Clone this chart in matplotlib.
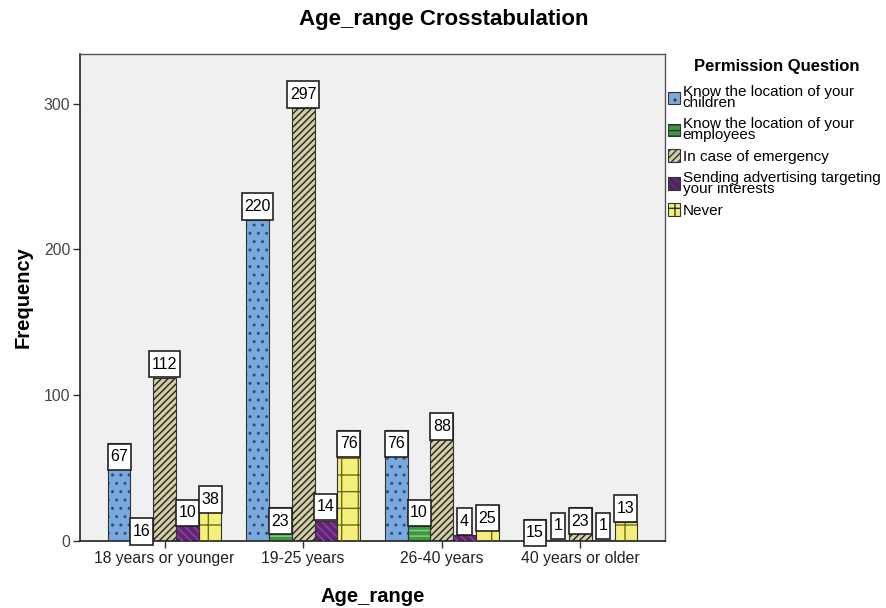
import numpy as np
import matplotlib
matplotlib.use("Agg")
from matplotlib import pyplot as plt
from matplotlib.patches import Patch
from matplotlib.path import Path

plt.rcParams['font.family'] = ['Liberation Sans', 'DejaVu Sans']

# data
age_groups = ["18 years or younger", "19-25 years", "26-40 years", "40 years or older"]
series_names = ["Know the location of your\nchildren",
                "Know the location of your\nemployees",
                "In case of emergency",
                "Sending advertising targeting\nyour interests",
                "Never"]
children = [67, 220, 76, 15]
employees = [16, 23, 10, 1]
emergency = [112, 297, 88, 23]
advertising = [10, 14, 4, 1]
never = [38, 76, 25, 13]

# where spss put each value box (True = above the bar top, False = inside at top)
label_above = [[False, True, False, False],
               [False, False, True, True],
               [True, True, False, False],
               [True, True, True, True],
               [False, False, False, True]]

series = [children, employees, emergency, advertising, never]
fills = ["#7BA9DD", "#3C9B3F", "#D2CDA4", "#5E2673", "#F3F07C"]
hatch_cols = ["#2D4F80", "#8ED08E", "#222222", "#9A3FA8", "#6E6A20"]
hatches = ["..", "---", "/////", "\\\\\\\\", "+"]


# square box with separate x / y padding (spss value labels are tall and narrow)
class PadBox:
    def __init__(self, padx, pady):
        self.padx = padx
        self.pady = pady

    def __call__(self, x0, y0, width, height, mutation_size):
        px = self.padx * mutation_size
        py = self.pady * mutation_size
        x0, y0 = x0 - px, y0 - py
        x1, y1 = x0 + width + 2 * px, y0 + height + 2 * py
        return Path([(x0, y0), (x1, y0), (x1, y1), (x0, y1), (x0, y0)], closed=True)


fs = 11.5
padx, pady = 0.16, 0.36
off = pady * fs + 0.3

fig = plt.figure(figsize=(8.87, 6.08), dpi=100)
ax = fig.add_axes([80/887, 1-541/608, 585/887, 487/608])
ax.set_facecolor("#F0F0F0")

x = np.arange(len(age_groups))
w = 0.164
for i, vals in enumerate(series):
    pos = x + (i - 2) * w
    # fill, then hatch on top, then outline
    ax.bar(pos, vals, w, color=fills[i], linewidth=0, zorder=2)
    ax.bar(pos, vals, w, color="none", edgecolor=hatch_cols[i], hatch=hatches[i], linewidth=0, zorder=3)
    ax.bar(pos, vals, w, color="none", edgecolor="#333333", linewidth=0.8, zorder=4)
    for j, v in enumerate(vals):
        if label_above[i][j]:
            ax.annotate(str(v), (pos[j], v), xytext=(0, off), textcoords="offset points",
                        ha="center", va="bottom", fontsize=fs, zorder=6,
                        bbox=dict(boxstyle=PadBox(padx, pady), fc="white", ec="#222222", lw=1.2))
        else:
            ax.annotate(str(v), (pos[j], v), xytext=(0, -off), textcoords="offset points",
                        ha="center", va="top", fontsize=fs, zorder=6,
                        bbox=dict(boxstyle=PadBox(padx, pady), fc="white", ec="#222222", lw=1.2))

ax.set_xlim(-0.61, 3.61)
ax.set_ylim(0, 334)
ax.set_xticks(x)
ax.set_xticklabels(age_groups, fontsize=11.3, color="#222222")
ax.set_yticks([0, 100, 200, 300])
ax.set_yticklabels(["0", "100", "200", "300"], fontsize=11.3, color="#444444")
ax.tick_params(length=5, width=1, color="#333333", pad=2)
for s in ["top", "right"]:
    ax.spines[s].set_color("#555555")
    ax.spines[s].set_linewidth(1)
for s in ["left", "bottom"]:
    ax.spines[s].set_color("#222222")
    ax.spines[s].set_linewidth(1.2)

ax.set_ylabel("Frequency", fontsize=14.5, fontweight="bold", labelpad=8)
ax.set_xlabel("Age_range", fontsize=14.5, fontweight="bold", labelpad=15)
fig.text(0.5, 1-20/608, "Age_range Crosstabulation", ha="center", va="center",
         fontsize=16, fontweight="bold")

# legend title drawn separately so the gap below it can match
fig.text(777/887, 1-67/608, "Permission Question", ha="center", va="center",
         fontsize=12, fontweight="bold")
handles = [Patch(facecolor=fills[i], edgecolor="#333333", hatch=hatches[i], linewidth=0.8)
           for i in range(5)]
leg = fig.legend(handles, series_names, loc="upper left", bbox_to_anchor=(665/887, 1-82/608),
                 frameon=False, fontsize=11,
                 handlelength=0.8, handleheight=0.9, handletextpad=0.15,
                 labelspacing=0.45, borderaxespad=0, borderpad=0.2)
for t in leg.get_texts():
    t.set_linespacing(0.75)

plt.savefig("out.png", dpi=100)
